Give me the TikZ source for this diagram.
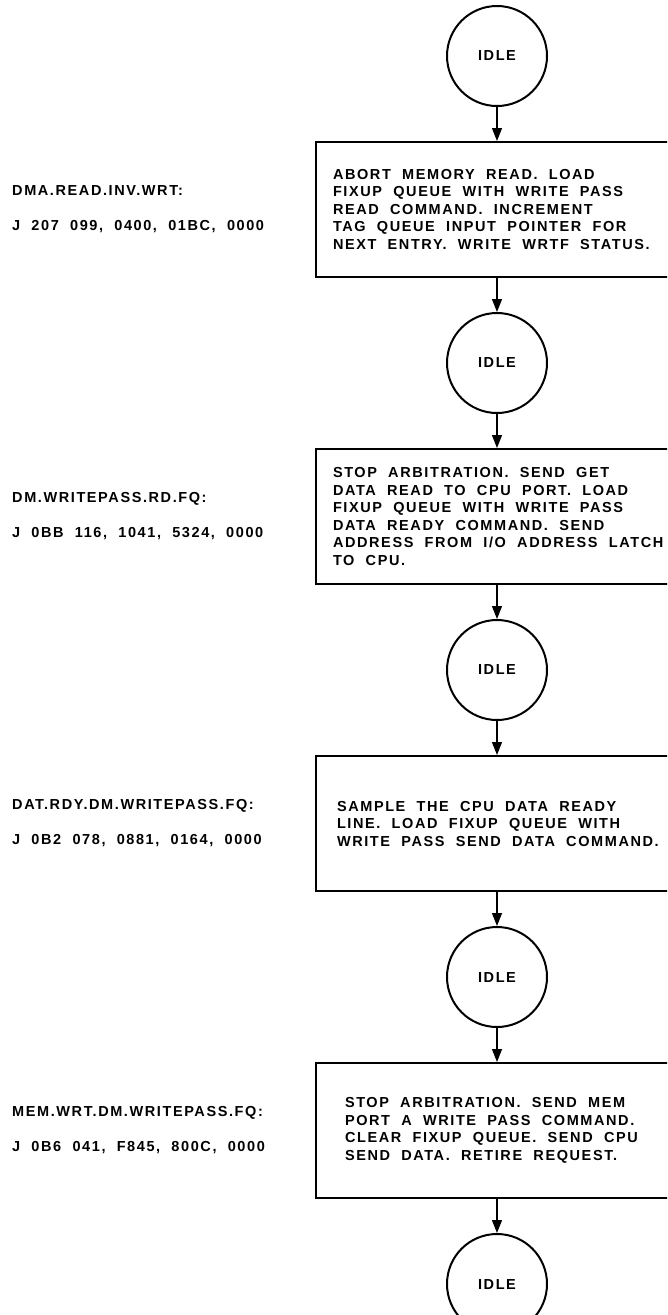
\documentclass[tikz,border=0pt]{standalone}
\usepackage{fontspec}
\newfontfamily\flowfont{Liberation Sans}[LetterSpace=11, WordSpace={2,2,0}]
\usepackage{tikz}
\usetikzlibrary{arrows.meta,positioning}
\frenchspacing

\begin{document}
\begin{tikzpicture}[
    x=1pt, y=1pt,
    font=\flowfont\bfseries\fontsize{14.5}{17.5}\selectfont,
    node distance=34pt,
    state/.style={draw, circle, line width=2pt, minimum size=100pt, inner sep=0pt},
    inset/.style={execute at begin node={\spaceskip=0pt\relax\hyphenpenalty=10000\relax\rightskip=0pt plus 1fil minus 200pt\relax\leftskip=#1\relax}},
    action/.style={draw, line width=2pt, minimum width=362pt, minimum height=135pt, align=left, inner xsep=17pt, inner ysep=0pt, text width=328pt, inset=0pt},
    tag/.style={align=left, anchor=west, inner sep=0pt},
    arrow/.style={-{Triangle[length=13pt, width=10pt]}, line width=1.1pt}
  ]
    \useasboundingbox (0,0) rectangle (667,-1315);
    \clip (0,0) rectangle (667,-1315);
    \coordinate (margin) at (12,0);

    \node[state] (idle1) at (497,-56) {IDLE};
    \node[action, below=of idle1] (abort) {ABORT MEMORY READ. LOAD\\FIXUP QUEUE WITH WRITE PASS\\READ COMMAND. INCREMENT\\TAG QUEUE INPUT POINTER FOR\\NEXT ENTRY. WRITE WRTF STATUS.};
    \node[state, below=of abort] (idle2) {IDLE};
    \node[action, below=of idle2] (stoparb) {STOP ARBITRATION. SEND GET\\DATA READ TO CPU PORT. LOAD\\FIXUP QUEUE WITH WRITE PASS\\DATA READY COMMAND. SEND\\ADDRESS FROM I/O ADDRESS LATCH\\TO CPU.};
    \node[state, below=of stoparb] (idle3) {IDLE};
    \node[action, inset=4pt, below=of idle3] (sample) {SAMPLE THE CPU DATA READY\\LINE. LOAD FIXUP QUEUE WITH\\WRITE PASS SEND DATA COMMAND.};
    \node[state, below=of sample] (idle4) {IDLE};
    \node[action, inset=12pt, below=of idle4] (memport) {STOP ARBITRATION. SEND MEM\\PORT A WRITE PASS COMMAND.\\CLEAR FIXUP QUEUE. SEND CPU\\SEND DATA. RETIRE REQUEST.};
    \node[state, below=of memport] (idle5) {IDLE};

    \node[tag] (abortlab) at (abort.west -| margin) {DMA.READ.INV.WRT:\\[17.5pt]J 207 099, 0400, 01BC, 0000};
    \node[tag] (stoparblab) at (stoparb.west -| margin) {DM.WRITEPASS.RD.FQ:\\[17.5pt]J 0BB 116, 1041, 5324, 0000};
    \node[tag] (samplelab) at (sample.west -| margin) {DAT.RDY.DM.WRITEPASS.FQ:\\[17.5pt]J 0B2 078, 0881, 0164, 0000};
    \node[tag] (memportlab) at (memport.west -| margin) {MEM.WRT.DM.WRITEPASS.FQ:\\[17.5pt]J 0B6 041, F845, 800C, 0000};

    \draw[arrow] (idle1) -- (abort);
    \draw[arrow] (abort) -- (idle2);
    \draw[arrow] (idle2) -- (stoparb);
    \draw[arrow] (stoparb) -- (idle3);
    \draw[arrow] (idle3) -- (sample);
    \draw[arrow] (sample) -- (idle4);
    \draw[arrow] (idle4) -- (memport);
    \draw[arrow] (memport) -- (idle5);
  \end{tikzpicture}
\end{document}
